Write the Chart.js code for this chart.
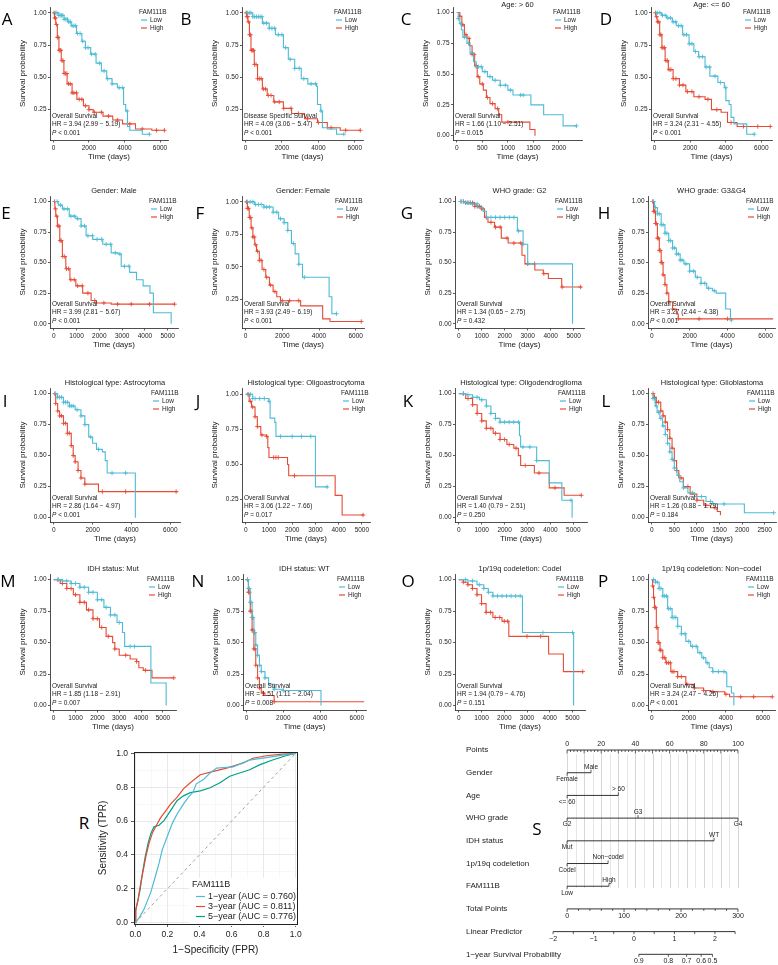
<!DOCTYPE html>
<html lang="en">
<head>
<meta charset="UTF-8">
<title>FAM111B survival panels</title>
<script src="https://cdn.jsdelivr.net/npm/chart.js"></script>
<style>
  html, body { margin: 0; padding: 0; background: #fff; }
  #fig { position: relative; width: 778px; height: 965px; overflow: hidden; background: #fff; }
  #fig canvas { position: absolute; }
  .tag { position: absolute; font-family: "Open Sans", "Noto Sans", sans-serif; font-size: 17px; color: #000;
         transform: translate(-50%, -50%); line-height: 1; }
</style>
</head>
<body>
<div id="fig"></div>
<script>
// ---------- KM curves: [time (days), survival after that time] ----------
const A_low  = [[0,1],[300,0.98],[600,0.95],[800,0.93],[1000,0.90],[1300,0.84],[1600,0.78],[1800,0.73],[2100,0.68],[2400,0.61],[2700,0.55],[3000,0.49],[3300,0.45],[3600,0.42],[3950,0.29],[4070,0.24],[4170,0.12],[4300,0.09],[5000,0.06],[5400,0.06]];
const A_high = [[0,1],[60,0.96],[130,0.91],[220,0.81],[310,0.71],[440,0.63],[590,0.53],[770,0.45],[1050,0.38],[1320,0.33],[1690,0.28],[2000,0.25],[2240,0.23],[2790,0.20],[3340,0.17],[3890,0.14],[4620,0.10],[5540,0.09],[6250,0.09]];
const B_low  = [[0,1],[400,0.97],[925,0.92],[1300,0.88],[1640,0.83],[2080,0.73],[2350,0.64],[2700,0.57],[3060,0.49],[3420,0.45],[3900,0.43],[3950,0.29],[4130,0.24],[4220,0.11],[4500,0.10],[5000,0.06],[5400,0.06]];
const B_high = [[0,1],[60,0.97],[125,0.93],[215,0.83],[300,0.71],[480,0.60],[660,0.49],[925,0.41],[1190,0.36],[1550,0.31],[2080,0.26],[2530,0.22],[3240,0.18],[3950,0.15],[4490,0.11],[5200,0.09],[6300,0.09]];
const C_low  = [[0,1],[30,0.95],[60,0.91],[90,0.86],[120,0.80],[200,0.75],[260,0.67],[330,0.60],[380,0.56],[500,0.52],[600,0.48],[700,0.45],[850,0.41],[1000,0.37],[1100,0.33],[1450,0.25],[1700,0.17],[2080,0.08],[2350,0.08]];
const C_high = [[0,1],[60,0.97],[100,0.90],[150,0.82],[200,0.79],[250,0.73],[300,0.66],[350,0.57],[400,0.48],[450,0.42],[520,0.37],[580,0.31],[650,0.26],[750,0.22],[820,0.17],[880,0.11],[1430,0.05],[1530,0.0]];
const D_low  = [[0,1],[400,0.98],[680,0.96],[1000,0.93],[1220,0.90],[1580,0.83],[1940,0.76],[2210,0.70],[2480,0.66],[2840,0.58],[3110,0.51],[3560,0.46],[3920,0.42],[4010,0.32],[4190,0.29],[4300,0.19],[4460,0.14],[5180,0.06],[5630,0.06]];
const D_high = [[0,1],[70,0.97],[145,0.93],[290,0.83],[415,0.73],[595,0.63],[775,0.56],[1045,0.49],[1400,0.44],[1760,0.39],[2210,0.35],[2840,0.33],[3200,0.25],[3740,0.23],[4100,0.15],[4640,0.12],[6550,0.12]];
const E_low  = [[0,1],[200,0.97],[380,0.94],[680,0.88],[970,0.86],[1200,0.80],[1420,0.72],[1710,0.69],[2150,0.65],[2520,0.58],[2820,0.57],[2960,0.47],[3330,0.42],[3630,0.36],[3920,0.31],[4220,0.25],[4370,0.09],[5100,0.09],[5150,0.0]];
const E_high = [[0,1],[50,0.94],[90,0.88],[160,0.80],[265,0.68],[380,0.55],[530,0.45],[710,0.36],[970,0.31],[1270,0.25],[1640,0.19],[1860,0.17],[2520,0.16],[5300,0.16]];
const F_low  = [[0,1],[500,0.98],[1000,0.96],[1500,0.92],[1800,0.87],[2100,0.84],[2300,0.78],[2500,0.68],[2700,0.60],[2900,0.52],[3100,0.42],[4500,0.42],[4550,0.27],[4700,0.14],[4950,0.14]];
const F_high = [[0,1],[100,0.95],[200,0.88],[300,0.80],[400,0.73],[500,0.67],[600,0.62],[750,0.55],[900,0.48],[1100,0.42],[1300,0.36],[1500,0.31],[1700,0.27],[1900,0.24],[2900,0.24],[3000,0.20],[4100,0.20],[4200,0.10],[4600,0.08],[6300,0.08]];
const G_low  = [[0,1],[300,0.99],[540,0.98],[830,0.95],[1050,0.92],[1200,0.87],[2500,0.87],[2550,0.76],[2750,0.76],[2800,0.65],[3000,0.49],[4920,0.49],[4950,0.0]];
const G_high = [[0,1],[300,0.99],[690,0.96],[980,0.94],[1120,0.87],[1270,0.83],[1560,0.79],[1850,0.70],[2150,0.66],[2700,0.66],[2750,0.56],[2880,0.49],[3310,0.44],[3680,0.41],[3900,0.37],[4480,0.30],[5350,0.30]];
const H_low  = [[0,1],[150,0.95],[300,0.90],[500,0.81],[700,0.74],[900,0.68],[1100,0.62],[1300,0.57],[1500,0.52],[1700,0.49],[2000,0.43],[2300,0.38],[2600,0.33],[2900,0.29],[3200,0.27],[3400,0.25],[3850,0.25],[3900,0.12],[4150,0.03],[4200,0.03]];
const H_high = [[0,1],[100,0.92],[200,0.82],[300,0.70],[400,0.60],[500,0.50],[600,0.40],[700,0.32],[800,0.25],[900,0.18],[1100,0.12],[1300,0.08],[1400,0.04],[6400,0.04]];
const I_low  = [[0,1],[200,0.97],[500,0.93],[800,0.90],[1100,0.87],[1400,0.82],[1600,0.75],[1800,0.65],[2000,0.60],[2200,0.55],[2500,0.53],[2650,0.46],[2750,0.36],[4150,0.36],[4200,0.0]];
const I_high = [[0,1],[100,0.92],[200,0.86],[300,0.82],[500,0.76],[700,0.68],[900,0.58],[1000,0.50],[1100,0.45],[1250,0.38],[1400,0.32],[1600,0.27],[2250,0.27],[2300,0.21],[6400,0.21]];
const J_low  = [[0,1],[300,0.97],[1000,0.95],[1050,0.83],[1250,0.80],[1300,0.70],[2950,0.70],[3000,0.34],[3550,0.34]];
const J_high = [[0,1],[150,0.95],[250,0.91],[400,0.84],[500,0.77],[650,0.71],[900,0.70],[950,0.62],[1000,0.55],[1500,0.55],[1800,0.50],[1850,0.42],[3800,0.42],[3850,0.28],[4100,0.28],[4150,0.14],[5100,0.14]];
const K_low  = [[0,1],[300,0.99],[600,0.97],[900,0.95],[1200,0.90],[1400,0.84],[1600,0.80],[1800,0.77],[2600,0.77],[2650,0.66],[2700,0.57],[3350,0.57],[3400,0.46],[3900,0.46],[3950,0.28],[4450,0.28],[4500,0.14],[4900,0.14],[4950,0.0]];
const K_high = [[0,1],[300,0.96],[600,0.91],[800,0.84],[1000,0.78],[1200,0.72],[1500,0.68],[1800,0.63],[2100,0.59],[2400,0.56],[2600,0.50],[2700,0.42],[3250,0.42],[3300,0.36],[3900,0.36],[3950,0.24],[4550,0.24],[4600,0.18],[5350,0.18]];
const L_low  = [[0,1],[30,0.96],[80,0.90],[120,0.85],[180,0.80],[240,0.74],[300,0.67],[350,0.60],[400,0.53],[450,0.47],[500,0.40],[560,0.34],[620,0.29],[700,0.24],[800,0.20],[950,0.17],[1200,0.13],[1350,0.11],[2000,0.11],[2050,0.04],[2700,0.04]];
const L_high = [[0,1],[50,0.97],[100,0.93],[200,0.86],[250,0.82],[300,0.77],[350,0.71],[400,0.64],[450,0.56],[500,0.46],[550,0.38],[600,0.32],[700,0.25],[850,0.19],[1000,0.14],[1150,0.10],[1300,0.08],[1450,0.05],[1520,0.02]];
const M_low  = [[0,1],[400,0.99],[800,0.97],[1200,0.94],[1600,0.90],[2000,0.84],[2300,0.78],[2600,0.72],[2900,0.66],[3150,0.58],[3250,0.47],[4400,0.47],[4450,0.18],[5100,0.18],[5150,0.0]];
const M_high = [[0,1],[300,0.97],[600,0.93],[900,0.88],[1200,0.82],[1500,0.76],[1800,0.69],[2100,0.62],[2400,0.55],[2700,0.50],[2800,0.45],[3000,0.40],[3500,0.37],[3800,0.35],[3900,0.30],[4100,0.28],[4500,0.22],[5500,0.22]];
const N_low  = [[0,1],[100,0.93],[200,0.82],[300,0.70],[400,0.58],[500,0.48],[600,0.40],[700,0.32],[800,0.27],[1000,0.22],[1200,0.17],[1500,0.13],[2000,0.12],[4000,0.12],[4050,0.0]];
const N_high = [[0,1],[100,0.90],[200,0.75],[300,0.60],[400,0.45],[500,0.32],[600,0.22],[700,0.14],[800,0.10],[1000,0.08],[1500,0.03],[6400,0.03]];
const O_low  = [[0,1],[400,0.99],[800,0.96],[1100,0.93],[1300,0.90],[1500,0.87],[2750,0.87],[2800,0.58],[5000,0.58],[5050,0.0]];
const O_high = [[0,1],[200,0.98],[400,0.96],[600,0.93],[800,0.88],[1000,0.81],[1200,0.74],[1500,0.70],[1900,0.67],[2200,0.55],[3900,0.55],[3950,0.41],[4550,0.41],[4600,0.27],[5450,0.27]];
const P_low  = [[0,1],[200,0.98],[400,0.93],[600,0.87],[860,0.77],[1100,0.70],[1400,0.63],[1600,0.57],[1840,0.51],[2100,0.47],[2480,0.42],[2700,0.38],[2920,0.34],[3100,0.30],[3290,0.27],[4000,0.26],[4050,0.15],[4300,0.10],[4430,0.0]];
const P_high = [[0,1],[50,0.95],[100,0.86],[150,0.78],[250,0.62],[340,0.50],[450,0.44],[600,0.38],[760,0.34],[1030,0.27],[1400,0.23],[1840,0.17],[2300,0.14],[2800,0.12],[3190,0.11],[3940,0.09],[4200,0.07],[6500,0.07]];

// censoring times (days)
const A_low_c  = [100,200,300,380,450,520,600,700,780,860,950,1050,1150,1250,1350,1500,1650,1800,1950,2150,2350,2600,2850,3050,3300,3700,3900,4150,5400];
const A_high_c = [40,80,120,170,220,270,320,370,420,480,540,600,680,760,850,950,1050,1150,1300,1450,1600,1800,2000,2300,2700,3100,3600,4300,5000,5800,6250];
const B_low_c  = [100,200,300,400,500,600,700,800,900,1000,1150,1300,1450,1600,1800,2000,2200,2450,2700,2950,3200,3600,3850,4150,5400];
const B_high_c = [40,80,120,170,220,270,320,380,440,500,580,660,760,860,980,1100,1250,1400,1600,1850,2100,2500,2900,3400,4000,4700,5500,6300];
const C_low_c  = [30,80,150,230,300,380,420,480,550,650,750,850,950,1050,1250,1300,2340];
const C_high_c = [60,120,180,240,300,340,380,420,500,600,700,800,1000];
const D_low_c  = [150,300,450,600,750,900,1050,1200,1350,1500,1650,1800,1950,2100,2300,2500,2700,2900,3100,3400,3700,4000,5600];
const D_high_c = [60,120,180,240,300,360,420,480,560,640,720,820,920,1050,1200,1400,1600,1850,2100,2500,3000,3500,4300,5000,5800,6500];
const E_low_c  = [150,300,450,600,750,900,1050,1200,1350,1500,1700,1900,2100,2300,2500,2700,2900,3100,3300];
const E_high_c = [40,80,130,180,230,280,330,400,480,560,650,750,900,1050,1250,1500,1800,2200,2800,3400,4200,5300];
const F_low_c  = [100,250,400,550,700,850,1000,1150,1300,1500,1700,1900,2100,2300,2600,2900,3200,4950];
const F_high_c = [50,100,160,220,280,340,400,470,550,650,750,850,1000,1150,1350,1600,2000,2400,2900,6300];
const G_low_c  = [100,200,300,400,500,600,700,800,1000,1200,1400,1600,1800,2000,2200,2400,2600,2800,3000];
const G_high_c = [100,200,300,400,500,600,700,800,900,1000,1200,1400,1600,1800,2100,2400,2700,3000,3300,3700,4500,5300];
const H_low_c  = [100,200,300,400,500,600,700,800,900,1000,1100,1200,1300,1400,1500,1600,1800,2000,2200,2400,2600,2800,3000,3300,4200];
const H_high_c = [50,100,150,200,250,300,350,400,450,500,550,600,700,800,900,1100,1400,2500,4000];
const I_low_c  = [100,200,300,400,500,600,700,800,900,1000,1200,1400,1600,1900,2300,3000,3700];
const I_high_c = [50,100,200,300,400,500,600,700,800,900,1000,1100,1250,1400,1600,2500,3700,6300];
const J_low_c  = [100,200,300,400,600,800,1000,1500,2000,2400,2800,3500];
const J_high_c = [100,200,300,400,500,700,900,1200,1300,1400,2100,5050];
const K_low_c  = [200,400,600,800,1000,1200,1400,1600,1800,2000,2200,2400,2600,2800,3100,3400,4900];
const K_high_c = [200,400,600,800,1000,1200,1400,1600,1800,2000,2200,2500,2900,3500,4200,5350];
const L_low_c  = [30,60,100,150,200,250,300,350,400,450,500,600,700,900,1100,1300,1600,2700];
const L_high_c = [30,60,100,150,200,250,300,350,400,450,500,550,650,800,1000,1200,1400];
const M_low_c  = [200,400,600,800,1000,1200,1400,1600,1800,2000,2200,2400,2600,2800,3000,3500,3700];
const M_high_c = [200,400,600,800,1000,1200,1400,1600,1800,2000,2200,2500,2800,3300,3800,4200,5500];
const N_low_c  = [50,100,150,200,250,300,350,400,450,500,600,700,800,1000,1500,2000];
const N_high_c = [50,100,150,200,250,300,350,400,450,500,600,700,900,1500];
const O_low_c  = [300,600,900,1100,1300,1500,1700,1900,2100,2300,2500,2700,3700,5000];
const O_high_c = [200,400,600,800,1000,1200,1400,1600,1800,2000,2150,3000,3600,5450];
const P_low_c  = [100,200,300,400,500,600,700,800,900,1000,1100,1200,1300,1400,1600,1800,2000,2200,2400,2600,2800,3000,3300,3600,3900];
const P_high_c = [50,100,150,200,250,300,350,400,450,500,600,700,800,900,1000,1100,1200,1400,1600,1900,2300,2800,3300,4000,4800,5500,6500];

// tick labels
const X_2K  = [0, 2000, 4000, 6000];
const X_1K  = [0, 1000, 2000, 3000, 4000, 5000];
const X_500 = [0, 500, 1000, 1500, 2000];
const X_L   = [0, 500, 1000, 1500, 2000, 2500];
const Y_KM  = [0, 0.25, 0.5, 0.75, 1];
const groups = ['Low', 'High'];

// ---------- ROC ----------
const rocLabels = ['1\u2212year (AUC = 0.760)', '3\u2212year (AUC = 0.811)', '5\u2212year (AUC = 0.776)'];
const roc1_fpr = [0,0.025,0.055,0.097,0.127,0.148,0.168,0.20,0.23,0.26,0.30,0.33,0.36,0.38,0.425,0.466,0.507,0.61,0.71,0.815,0.918,1];
const roc1_tpr = [0,0.03,0.08,0.18,0.28,0.35,0.43,0.51,0.585,0.64,0.70,0.74,0.77,0.82,0.845,0.884,0.913,0.92,0.96,0.975,0.99,1];
const roc3_fpr = [0,0.004,0.018,0.035,0.05,0.066,0.086,0.107,0.127,0.158,0.19,0.22,0.26,0.30,0.343,0.405,0.487,0.569,0.67,0.733,0.815,0.918,1];
const roc3_tpr = [0,0.08,0.14,0.24,0.31,0.39,0.47,0.53,0.566,0.62,0.66,0.70,0.74,0.79,0.826,0.874,0.894,0.913,0.942,0.971,0.986,0.996,1];
const roc5_fpr = [0,0,0.014,0.031,0.045,0.062,0.08,0.097,0.117,0.148,0.18,0.22,0.26,0.30,0.343,0.405,0.466,0.528,0.589,0.65,0.713,0.774,0.856,0.938,1];
const roc5_tpr = [0,0.064,0.12,0.2,0.295,0.39,0.47,0.527,0.566,0.575,0.604,0.662,0.72,0.749,0.768,0.778,0.797,0.826,0.865,0.884,0.903,0.932,0.961,0.986,1];
const rocTicks = [0,0.1,0.2,0.3,0.4,0.5,0.6,0.7,0.8,0.9,1];

// ---------- nomogram ----------
const nomoRows   = ['Points','Gender','Age','WHO grade','IDH status','1p/19q codeletion','FAM111B','Total Points','Linear Predictor','1\u2212year Survival Probability'];
const nomoLevels = [['Female','Male'],['<= 60','> 60'],['G2','G3','G4'],['Mut','WT'],['Codel','Non\u2212codel'],['Low','High']];
const nomoPoints = [[0,14],[0,30],[0,41.5,100],[0,86],[0,24],[0,24.5]];
const pointsLabels = [0,20,40,60,80,100];
const totalLabels  = [0,100,200,300];
const lpLabels     = [-2,-1,0,1,2];
const survLabels   = [0.9,0.8,0.7,0.6,0.5];
const survAtLP     = [0.12,0.85,1.30,1.66,1.94];   // linear-predictor position of each survival tick

// ---------- look ----------
const FONT = '"Liberation Sans", Arial, sans-serif';
const C_LOW = '#4DBBD5', C_HIGH = '#E64B35', C_5Y = '#00A087';
const INK = '#222';
const ROW_TOP = [7, 196, 388, 574];
const ROW_BOT = [140, 328, 522, 710];
const fig = document.getElementById('fig');

const panels = [
  {tag:'A', row:0, L:50,  R:168, low:A_low, high:A_high, lc:A_low_c, hc:A_high_c, xMax:6450, xt:X_2K,  yMin:0.015, title:'', end:'Overall Survival', hr:'3.94 (2.99 \u2212 5.19)', p:'< 0.001'},
  {tag:'B', row:0, L:242, R:363, low:B_low, high:B_high, lc:B_low_c, hc:B_high_c, xMax:6450, xt:X_2K,  yMin:0.015, title:'', end:'Disease Specific Survival', hr:'4.09 (3.06 \u2212 5.47)', p:'< 0.001'},
  {tag:'C', row:0, L:453, R:582, low:C_low, high:C_high, lc:C_low_c, hc:C_high_c, xMax:2450, xt:X_500, yMin:-0.035, title:'Age: > 60', end:'Overall Survival', hr:'1.66 (1.10 \u2212 2.51)', p:'= 0.015'},
  {tag:'D', row:0, L:651, R:772, low:D_low, high:D_high, lc:D_low_c, hc:D_high_c, xMax:6600, xt:X_2K,  yMin:0.015, title:'Age: <= 60', end:'Overall Survival', hr:'3.24 (2.31 \u2212 4.55)', p:'< 0.001'},
  {tag:'E', row:1, L:50,  R:178, low:E_low, high:E_high, lc:E_low_c, hc:E_high_c, xMax:5450, xt:X_1K,  yMin:-0.035, title:'Gender: Male', end:'Overall Survival', hr:'3.99 (2.81 \u2212 5.67)', p:'< 0.001'},
  {tag:'F', row:1, L:242, R:364, low:F_low, high:F_high, lc:F_low_c, hc:F_high_c, xMax:6450, xt:X_2K,  yMin:0.03, title:'Gender: Female', end:'Overall Survival', hr:'3.93 (2.49 \u2212 6.19)', p:'< 0.001'},
  {tag:'G', row:1, L:455, R:584, low:G_low, high:G_high, lc:G_low_c, hc:G_high_c, xMax:5450, xt:X_1K,  yMin:-0.035, title:'WHO grade: G2', end:'Overall Survival', hr:'1.34 (0.65 \u2212 2.75)', p:'= 0.432'},
  {tag:'H', row:1, L:648, R:775, low:H_low, high:H_high, lc:H_low_c, hc:H_high_c, xMax:6500, xt:X_2K,  yMin:-0.035, title:'WHO grade: G3&G4', end:'Overall Survival', hr:'3.27 (2.44 \u2212 4.38)', p:'< 0.001'},
  {tag:'I', row:2, L:50,  R:180, low:I_low, high:I_high, lc:I_low_c, hc:I_high_c, xMax:6500, xt:X_2K,  yMin:-0.035, title:'Histological type: Astrocytoma', end:'Overall Survival', hr:'2.86 (1.64 \u2212 4.97)', p:'< 0.001'},
  {tag:'J', row:2, L:242, R:370, low:J_low, high:J_high, lc:J_low_c, hc:J_high_c, xMax:5350, xt:X_1K,  yMin:0.09, title:'Histological type: Oligoastrocytoma', end:'Overall Survival', hr:'3.06 (1.22 \u2212 7.66)', p:'= 0.017'},
  {tag:'K', row:2, L:455, R:587, low:K_low, high:K_high, lc:K_low_c, hc:K_high_c, xMax:5600, xt:X_1K,  yMin:-0.035, title:'Histological type: Oligodendroglioma', end:'Overall Survival', hr:'1.40 (0.79 \u2212 2.51)', p:'= 0.250'},
  {tag:'L', row:2, L:648, R:776, low:L_low, high:L_high, lc:L_low_c, hc:L_high_c, xMax:2750, xt:X_L,   yMin:-0.035, title:'Histological type: Glioblastoma', end:'Overall Survival', hr:'1.26 (0.88 \u2212 1.79)', p:'= 0.184'},
  {tag:'M', row:3, L:50,  R:176, low:M_low, high:M_high, lc:M_low_c, hc:M_high_c, xMax:5600, xt:X_1K,  yMin:-0.035, title:'IDH status: Mut', end:'Overall Survival', hr:'1.85 (1.18 \u2212 2.91)', p:'= 0.007'},
  {tag:'N', row:3, L:243, R:366, low:N_low, high:N_high, lc:N_low_c, hc:N_high_c, xMax:6500, xt:X_2K,  yMin:-0.035, title:'IDH status: WT', end:'Overall Survival', hr:'1.51 (1.11 \u2212 2.04)', p:'= 0.008'},
  {tag:'O', row:3, L:455, R:585, low:O_low, high:O_high, lc:O_low_c, hc:O_high_c, xMax:5550, xt:X_1K,  yMin:-0.035, title:'1p/19q codeletion: Codel', end:'Overall Survival', hr:'1.94 (0.79 \u2212 4.76)', p:'= 0.151'},
  {tag:'P', row:3, L:648, R:775, low:P_low, high:P_high, lc:P_low_c, hc:P_high_c, xMax:6650, xt:X_2K,  yMin:-0.035, title:'1p/19q codeletion: Non\u2212codel', end:'Overall Survival', hr:'3.24 (2.47 \u2212 4.26)', p:'< 0.001'}
];

const tags = [
  ['A',7,18],['B',186,18],['C',406,18],['D',606,18],
  ['E',6,212],['F',200,212],['G',407,212],['H',604,212],
  ['I',5,400],['J',198,400],['K',408,400],['L',606,400],
  ['M',8,580],['N',198,580],['O',408,580],['P',603,580],
  ['R',84,822],['S',537,828]
];

function survAt(curve, t) {
  let s = curve[0][1];
  for (const [ti, si] of curve) { if (ti <= t) s = si; else break; }
  return s;
}

function addCanvas(x, y, w, h) {
  const c = document.createElement('canvas');
  c.width = w; c.height = h;
  c.style.left = x + 'px'; c.style.top = y + 'px';
  c.style.width = w + 'px'; c.style.height = h + 'px';
  fig.appendChild(c);
  return c;
}

// title, legend and HR text of a KM panel
const kmDeco = {
  id: 'kmDeco',
  afterDraw(chart, args, o) {
    const {ctx, chartArea: a} = chart;
    ctx.save();
    ctx.fillStyle = INK;
    ctx.textBaseline = 'middle';
    if (o.title) {
      ctx.font = '7.5px ' + FONT;
      ctx.textAlign = 'center';
      ctx.fillText(o.title, (a.left + a.right) / 2, Math.max(5, a.top - 5));
    }
    // legend
    const lx = a.right - 29, ly = a.top + 5;
    ctx.textAlign = 'left';
    ctx.font = '6.5px ' + FONT;
    ctx.fillText('FAM111B', lx, ly);
    groups.forEach((g, i) => {
      const y = ly + 8 * (i + 1);
      ctx.strokeStyle = i ? C_HIGH : C_LOW;
      ctx.lineWidth = 1.2;
      ctx.beginPath(); ctx.moveTo(lx + 2, y); ctx.lineTo(lx + 8, y); ctx.stroke();
      ctx.fillText(g, lx + 11, y);
    });
    // hazard ratio block
    const x0 = a.left + 2;
    ctx.fillText(o.end, x0, a.bottom - 24);
    ctx.fillText('HR = ' + o.hr, x0, a.bottom - 15.5);
    ctx.font = 'italic 6.5px ' + FONT;
    ctx.fillText('P', x0, a.bottom - 7);
    const w = ctx.measureText('P').width;
    ctx.font = '6.5px ' + FONT;
    ctx.fillText(' ' + o.p, x0 + w, a.bottom - 7);
    ctx.restore();
  }
};

function kmPanel(p) {
  const top = ROW_TOP[p.row], bot = ROW_BOT[p.row];
  const cx = p.L - 50, cy = Math.max(0, top - 14);
  const w = p.R + 8 - cx, h = bot + 30 - cy;
  const canvas = addCanvas(cx, cy, w, h);
  const line = (curve, col) => ({
    data: curve.map(([x, y]) => ({x, y})), borderColor: col, borderWidth: 1.1,
    pointRadius: 0, stepped: true, fill: false
  });
  const cens = (curve, times, col) => ({
    data: times.map(t => ({x: t, y: survAt(curve, t)})), showLine: false,
    pointStyle: 'cross', pointRadius: 2.2, pointBorderWidth: 0.9, borderColor: col, clip: 4
  });
  new Chart(canvas, {
    type: 'line',
    data: {datasets: [
      line(p.low, C_LOW), line(p.high, C_HIGH),
      cens(p.low, p.lc, C_LOW), cens(p.high, p.hc, C_HIGH)
    ]},
    options: {
      responsive: false, animation: false, devicePixelRatio: 1,
      layout: {autoPadding: false, padding: {left: 0, right: 8, top: top - cy, bottom: 0}},
      plugins: {legend: {display: false}, tooltip: {enabled: false},
        kmDeco: {title: p.title, end: p.end, hr: p.hr, p: p.p}},
      scales: {
        x: {
          type: 'linear', min: -0.03 * p.xMax, max: p.xMax,
          afterBuildTicks: s => { s.ticks = p.xt.map(v => ({value: v})); },
          afterFit: s => { s.height = 30; },
          ticks: {font: {size: 6.5, family: FONT}, color: INK, padding: 2, maxRotation: 0, autoSkip: false,
                  callback: v => String(v)},
          grid: {drawOnChartArea: false, tickLength: 2.5, color: '#333', lineWidth: 0.8},
          border: {display: true, color: '#222', width: 0.8},
          title: {display: true, text: 'Time (days)', font: {size: 8, family: FONT}, color: INK,
                  padding: {top: 0, bottom: 8.2}}
        },
        y: {
          type: 'linear', min: p.yMin, max: 1.045,
          afterBuildTicks: s => { s.ticks = Y_KM.filter(v => v >= s.min && v <= s.max).map(v => ({value: v})); },
          afterFit: s => { s.width = 50; },
          ticks: {font: {size: 6.5, family: FONT}, color: INK, padding: 1.5, callback: v => v.toFixed(2)},
          grid: {drawOnChartArea: false, tickLength: 2, color: '#333', lineWidth: 0.8},
          border: {display: true, color: '#222', width: 0.8},
          title: {display: true, text: 'Survival probability', font: {size: 8, family: FONT}, color: INK,
                  padding: {top: 18.2, bottom: 0}}
        }
      }
    },
    plugins: [kmDeco]
  });
}

panels.forEach(kmPanel);

// ---------- R: time-dependent ROC ----------
const rocDeco = {
  id: 'rocDeco',
  afterDraw(chart) {
    const {ctx, chartArea: a} = chart;
    ctx.save();
    // legend
    const lx = 97, ly = 143;
    ctx.fillStyle = '#fff';
    ctx.fillRect(lx - 3, ly - 7, a.right - lx + 2, 48);
    ctx.fillStyle = INK;
    ctx.textBaseline = 'middle';
    ctx.textAlign = 'left';
    ctx.font = '9px ' + FONT;
    ctx.fillText('FAM111B', lx, ly);
    [C_LOW, C_HIGH, C_5Y].forEach((col, i) => {
      const y = ly + 11.5 + 10 * i;
      ctx.strokeStyle = col; ctx.lineWidth = 1.2;
      ctx.beginPath(); ctx.moveTo(lx + 4, y); ctx.lineTo(lx + 13, y); ctx.stroke();
      ctx.fillText(rocLabels[i], lx + 16, y);
    });
    ctx.strokeStyle = '#222'; ctx.lineWidth = 1;
    ctx.strokeRect(Math.round(a.left) + 0.5, Math.round(a.top) + 0.5, Math.round(a.width), Math.round(a.height));
    ctx.restore();
  }
};
{
  const canvas = addCanvas(95, 742, 210, 223);
  const pts = (xs, ys) => xs.map((x, i) => ({x, y: ys[i]}));
  const major = v => Math.round(v * 10) % 2 === 0;
  const axis = (label, pad) => ({
    type: 'linear', min: -0.008, max: 1.008,
    afterBuildTicks: s => { s.ticks = rocTicks.map(v => ({value: v})); },
    ticks: {font: {size: 8.5, family: FONT}, color: INK, padding: 3, autoSkip: false, maxRotation: 0,
            callback: v => major(v) ? v.toFixed(1) : ''},
    grid: {color: c => major(c.tick.value) ? '#E3E3E3' : '#F0F0F0',
           lineWidth: c => major(c.tick.value) ? 0.8 : 0.5,
           tickColor: c => major(c.tick.value) ? '#333' : 'rgba(0,0,0,0)', tickLength: 3},
    border: {display: false},
    title: {display: true, text: label, font: {size: 10, family: FONT}, color: INK, padding: pad}
  });
  new Chart(canvas, {
    type: 'line',
    data: {datasets: [
      {data: [{x: 0, y: 0}, {x: 1, y: 1}], borderColor: '#8a8a8a', borderDash: [3, 3], borderWidth: 0.8, pointRadius: 0},
      {data: pts(roc1_fpr, roc1_tpr), borderColor: C_LOW, borderWidth: 1.2, pointRadius: 0},
      {data: pts(roc3_fpr, roc3_tpr), borderColor: C_HIGH, borderWidth: 1.2, pointRadius: 0},
      {data: pts(roc5_fpr, roc5_tpr), borderColor: C_5Y, borderWidth: 1.2, pointRadius: 0}
    ]},
    options: {
      responsive: false, animation: false, devicePixelRatio: 1,
      layout: {autoPadding: false, padding: {left: 0, right: 8, top: 10, bottom: 0}},
      plugins: {legend: {display: false}, tooltip: {enabled: false}},
      scales: {
        x: Object.assign(axis('1\u2212Specificity (FPR)', {top: 0, bottom: 9}), {afterFit: s => { s.height = 41; }}),
        y: Object.assign(axis('Sensitivity (TPR)', {top: 2, bottom: 0}), {afterFit: s => { s.width = 39; }})
      }
    },
    plugins: [rocDeco]
  });
}

// ---------- S: nomogram ----------
const LP_AT = {lo: -2, loPts: -8.2, hi: 2, hiPts: 86.5};   // where the linear predictor axis sits on the points axis
const lpToPts = v => LP_AT.loPts + (v - LP_AT.lo) * (LP_AT.hiPts - LP_AT.loPts) / (LP_AT.hi - LP_AT.lo);
const nomoDeco = {
  id: 'nomoDeco',
  beforeDatasetsDraw(chart) {
    const {ctx, scales: {x, y}} = chart;
    ctx.save();
    for (let v = 0; v <= 100; v += 5) {
      const px = Math.round(x.getPixelForValue(v)) + 0.5;
      ctx.strokeStyle = v % 10 === 0 ? '#cccccc' : '#e0e0e0';
      ctx.lineWidth = 0.8;
      ctx.beginPath();
      ctx.moveTo(px, y.getPixelForValue(0) + 4);
      ctx.lineTo(px, y.getPixelForValue(6) + 2);
      ctx.stroke();
    }
    ctx.restore();
  },
  afterDraw(chart) {
    const {ctx, chartArea: a, scales: {x, y}} = chart;
    const X = v => x.getPixelForValue(v), Y = r => y.getPixelForValue(r);
    const tick = (px, py, len) => { ctx.beginPath(); ctx.moveTo(px, py); ctx.lineTo(px, py + len); ctx.stroke(); };
    ctx.save();
    ctx.strokeStyle = '#333'; ctx.fillStyle = INK; ctx.lineWidth = 0.8;
    ctx.textBaseline = 'middle';
    // row names
    ctx.textAlign = 'left';
    ctx.font = '8px ' + FONT;
    nomoRows.forEach((t, r) => ctx.fillText(t, a.left - 84, Y(r)));
    ctx.textAlign = 'center';
    // points axis
    ctx.font = '7px ' + FONT;
    for (let v = 0; v <= 100; v += 2) tick(X(v), Y(0), v % 10 === 0 ? 3.5 : 2);
    pointsLabels.forEach(v => ctx.fillText(String(v), X(v), Y(0) - 6));
    // variables
    ctx.font = '6.5px ' + FONT;
    nomoPoints.forEach((lv, k) => {
      const r = k + 1;
      lv.forEach((pt, i) => {
        const up = i % 2 === 1;
        tick(X(pt), Y(r), up ? -3 : 3);
        ctx.fillText(nomoLevels[k][i], X(pt), Y(r) + (up ? -6 : 6.5));
      });
    });
    // total points
    ctx.font = '7px ' + FONT;
    for (let v = 0; v <= 300; v += 20) tick(X(v / 3), Y(7), v % 100 === 0 ? 3 : 2);
    totalLabels.forEach(v => ctx.fillText(String(v), X(v / 3), Y(7) + 7));
    // linear predictor
    for (let v = -2; v <= 2.5; v += 0.5) tick(X(lpToPts(v)), Y(8), 2.5);
    lpLabels.forEach(v => ctx.fillText(v < 0 ? '\u2212' + Math.abs(v) : String(v), X(lpToPts(v)), Y(8) + 7));
    // survival probability
    survAtLP.forEach((lp, i) => {
      tick(X(lpToPts(lp)), Y(9), 2.5);
      ctx.fillText(survLabels[i].toFixed(1), X(lpToPts(lp)), Y(9) + 6.5);
    });
    ctx.restore();
  }
};
{
  const canvas = addCanvas(455, 725, 323, 240);
  const seg = (x0, x1, r) => ({data: [{x: x0, y: r}, {x: x1, y: r}], borderColor: '#333', borderWidth: 1, pointRadius: 0});
  const sets = [seg(0, 100, 0)];
  nomoPoints.forEach((lv, k) => sets.push(seg(0, Math.max(...lv), k + 1)));
  sets.push(seg(0, 100, 7));
  sets.push(seg(lpToPts(-2), lpToPts(2.5), 8));
  sets.push(seg(lpToPts(survAtLP[0]), lpToPts(survAtLP[survAtLP.length - 1]), 9));
  new Chart(canvas, {
    type: 'line',
    data: {datasets: sets},
    options: {
      responsive: false, animation: false, devicePixelRatio: 1,
      layout: {autoPadding: false, padding: {left: 95, right: 36.6, top: 11.4, bottom: 1.6}},
      plugins: {legend: {display: false}, tooltip: {enabled: false}},
      scales: {
        x: {type: 'linear', min: -10, max: 102, display: false},
        y: {type: 'linear', min: -0.6, max: 9.4, reverse: true, display: false}
      }
    },
    plugins: [nomoDeco]
  });
}

// panel letters
tags.forEach(([t, x, y]) => {
  const d = document.createElement('div');
  d.className = 'tag';
  d.textContent = t;
  d.style.left = x + 'px';
  d.style.top = y + 'px';
  fig.appendChild(d);
});
</script>
</body>
</html>
